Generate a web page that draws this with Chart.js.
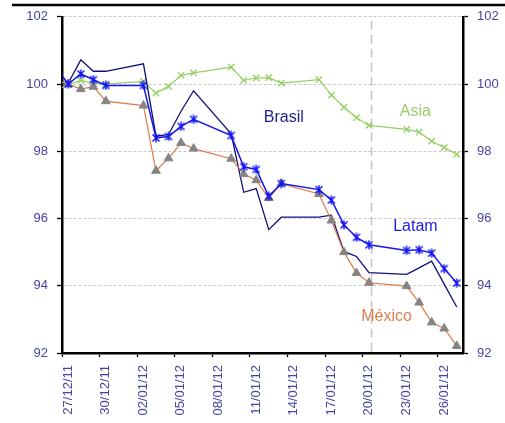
<!DOCTYPE html>
<html>
<head>
<meta charset="utf-8">
<script src="https://cdn.jsdelivr.net/npm/chart.js@4.4.0/dist/chart.umd.min.js"></script>
<style>
  html, body { margin: 0; padding: 0; background: #fff; }
  #wrap { width: 505px; height: 423px; }
</style>
</head>
<body>
<div id="wrap"><canvas id="grafico"></canvas></div>
<script>
// fechas (días hábiles) y series
const fechas = ['26/12/11','27/12/11','28/12/11','29/12/11','30/12/11',
  '02/01/12','03/01/12','04/01/12','05/01/12','06/01/12',
  '09/01/12','10/01/12','11/01/12','12/01/12','13/01/12',
  '16/01/12','17/01/12','18/01/12','19/01/12','20/01/12',
  '23/01/12','24/01/12','25/01/12','26/01/12','27/01/12'];

const latam  = [100.5, 100.0, 100.30, 100.13, 99.96, 99.96, 98.40, 98.44, 98.74, 98.95,
  98.47, 97.54, 97.46, 96.66, 97.04, 96.86, 96.55, 95.81, 95.44, 95.22,
  95.05, 95.07, 94.97, 94.51, 94.08];
const brasil = [99.95, 100.03, 100.72, 100.38, 100.38, 100.60, 98.45, 98.50, 99.19, 99.80,
  98.52, 96.78, 96.89, 95.67, 96.04, 96.04, 96.10, 95.02, 94.87, 94.39,
  94.34, 94.53, 94.73, 94.05, 93.37];
const mexico = [100.1, 100.0, 99.85, 99.92, 99.49, 99.36, 97.42, 97.79, 98.25, 98.08,
  97.78, 97.32, 97.14, 96.61, 97.04, 96.73, 95.94, 95.00, 94.38, 94.09,
  93.99, 93.50, 92.91, 92.73, 92.21];
const asia   = [99.8, 99.98, 100.11, 100.03, 100.0, 100.08, 99.73, 99.93, 100.26, 100.33,
  100.50, 100.11, 100.18, 100.19, 100.03, 100.13, 99.67, 99.31, 99.00, 98.77,
  98.65, 98.57, 98.30, 98.11, 97.91];

const etiquetasX = ['27/12/11','30/12/11','02/01/12','05/01/12','08/01/12','11/01/12',
  '14/01/12','17/01/12','20/01/12','23/01/12','26/01/12'];
const ticksY = [92, 94, 96, 98, 100, 102];

// textos de las series (en coordenadas de datos: fecha, valor)
const rotulos = [
  { texto: 'Brasil', fecha: '13/01/12', dx: 0.7, valor: 98.99, color: '#1f1f8c' },
  { texto: 'Asia',   fecha: '24/01/12', dx: 0.2, valor: 99.19, color: '#9acd6a' },
  { texto: 'Latam',  fecha: '24/01/12', dx: 0.2, valor: 95.76, color: '#1a1aee' },
  { texto: 'México', fecha: '21/01/12', dx: 0.9, valor: 93.07, color: '#e07d4c' }
];
const fechaCorte = '20/01/12';

const inicio = Date.UTC(2011, 11, 27);
function diaDe(f) {
  const p = f.split('/');
  return (Date.UTC(2000 + Number(p[2]), Number(p[1]) - 1, Number(p[0])) - inicio) / 86400000;
}
// Excel pone cada punto en el centro del día
const puntos = serie => serie.map((v, i) => ({ x: diaDe(fechas[i]) + 0.5, y: v }));
const sinPrimero = r => ctx => ctx.dataIndex === 0 ? 0 : r;

// marcador asterisco tipo Excel
function estrella(color) {
  const c = document.createElement('canvas');
  c.width = 10; c.height = 10;
  const g = c.getContext('2d');
  g.strokeStyle = color; g.lineWidth = 1.5;
  g.beginPath();
  g.moveTo(1.5, 1.5); g.lineTo(8.5, 8.5);
  g.moveTo(8.5, 1.5); g.lineTo(1.5, 8.5);
  g.moveTo(5, 0.5); g.lineTo(5, 9.5);
  g.stroke();
  return c;
}

const fuente = { family: 'Liberation Sans, Arial, sans-serif', size: 13 };
const colorTexto = '#4545a5';

const extras = {
  id: 'extras',
  beforeDatasetsDraw(chart) {
    const { ctx, chartArea, scales } = chart;
    const x = scales.x.getPixelForValue(diaDe(fechaCorte) + 0.7);
    ctx.save();
    ctx.strokeStyle = '#c4c4c4';
    ctx.lineWidth = 1.5;
    ctx.setLineDash([9, 5]);
    ctx.beginPath();
    ctx.moveTo(x, chartArea.top + 4);
    ctx.lineTo(x, chartArea.bottom);
    ctx.stroke();
    ctx.restore();
  },
  afterDraw(chart) {
    const { ctx, scales } = chart;
    ctx.save();
    // línea negra superior
    ctx.strokeStyle = '#000';
    ctx.lineWidth = 2.5;
    ctx.beginPath();
    ctx.moveTo(12, 5);
    ctx.lineTo(chart.width, 5);
    ctx.stroke();
    ctx.font = '16px Liberation Sans, Arial, sans-serif';
    ctx.textAlign = 'center';
    ctx.textBaseline = 'middle';
    rotulos.forEach(r => {
      ctx.fillStyle = r.color;
      ctx.fillText(r.texto, scales.x.getPixelForValue(diaDe(r.fecha) + r.dx), scales.y.getPixelForValue(r.valor));
    });
    ctx.restore();
  }
};

const ctx = document.getElementById('grafico').getContext('2d');
new Chart(ctx, {
  type: 'line',
  data: {
    datasets: [
      {
        label: 'Brasil', data: puntos(brasil),
        borderColor: '#10107a', borderWidth: 1.3,
        pointRadius: 0, order: 3
      },
      {
        label: 'México', data: puntos(mexico),
        borderColor: '#e27a45', borderWidth: 1.2,
        pointStyle: 'triangle', pointRadius: sinPrimero(5),
        pointBackgroundColor: '#858585', pointBorderColor: '#858585', pointBorderWidth: 1,
        order: 2
      },
      {
        label: 'Asia', data: puntos(asia),
        borderColor: '#93cf62', borderWidth: 1.2,
        pointStyle: 'crossRot', pointRadius: sinPrimero(4.5),
        pointBorderColor: '#93cf62', pointBorderWidth: 1.3,
        order: 4
      },
      {
        label: 'Latam', data: puntos(latam),
        borderColor: '#1515f0', borderWidth: 1.5,
        pointStyle: estrella('#1515f0'), pointRadius: sinPrimero(5),
        order: 1
      }
    ]
  },
  options: {
    responsive: true,
    maintainAspectRatio: false,
    animation: false,
    layout: { padding: { top: 15, right: 0, left: 0, bottom: 0 } },
    plugins: {
      legend: { display: false },
      tooltip: { enabled: false }
    },
    elements: { line: { tension: 0 } },
    scales: {
      x: {
        type: 'linear',
        min: 0,
        max: 32,
        afterBuildTicks: axis => { axis.ticks = etiquetasX.map(f => ({ value: diaDe(f) })); },
        afterFit: axis => { axis.height = 70; },
        grid: { drawOnChartArea: false, drawTicks: true, tickLength: 4, tickColor: '#000', tickWidth: 1.3 },
        border: { display: true, color: '#000', width: 2.5 },
        ticks: {
          callback: (v, i) => etiquetasX[i],
          minRotation: 90, maxRotation: 90,
          labelOffset: 6,
          padding: 8,
          color: colorTexto,
          font: fuente,
          autoSkip: false
        }
      },
      y: {
        position: 'left',
        min: 92, max: 102,
        afterBuildTicks: axis => { axis.ticks = ticksY.map(v => ({ value: v })); },
        afterFit: axis => { axis.width = 62; },
        grid: {
          color: '#c8c8c8', lineWidth: 1,
          drawTicks: true, tickLength: 5, tickColor: '#000', tickWidth: 1.3, tickBorderDash: []
        },
        border: { display: true, color: '#000', width: 2.5, dash: [3, 2] },
        ticks: { color: colorTexto, font: fuente, padding: 9 }
      },
      y2: {
        position: 'right',
        min: 92, max: 102,
        afterBuildTicks: axis => { axis.ticks = ticksY.map(v => ({ value: v })); },
        afterFit: axis => { axis.width = 42; },
        grid: { drawOnChartArea: false, drawTicks: true, tickLength: 5, tickColor: '#000', tickWidth: 1.3 },
        border: { display: true, color: '#000', width: 2.5 },
        ticks: { color: colorTexto, font: fuente, padding: 9 }
      }
    }
  },
  plugins: [extras]
});
</script>
</body>
</html>
